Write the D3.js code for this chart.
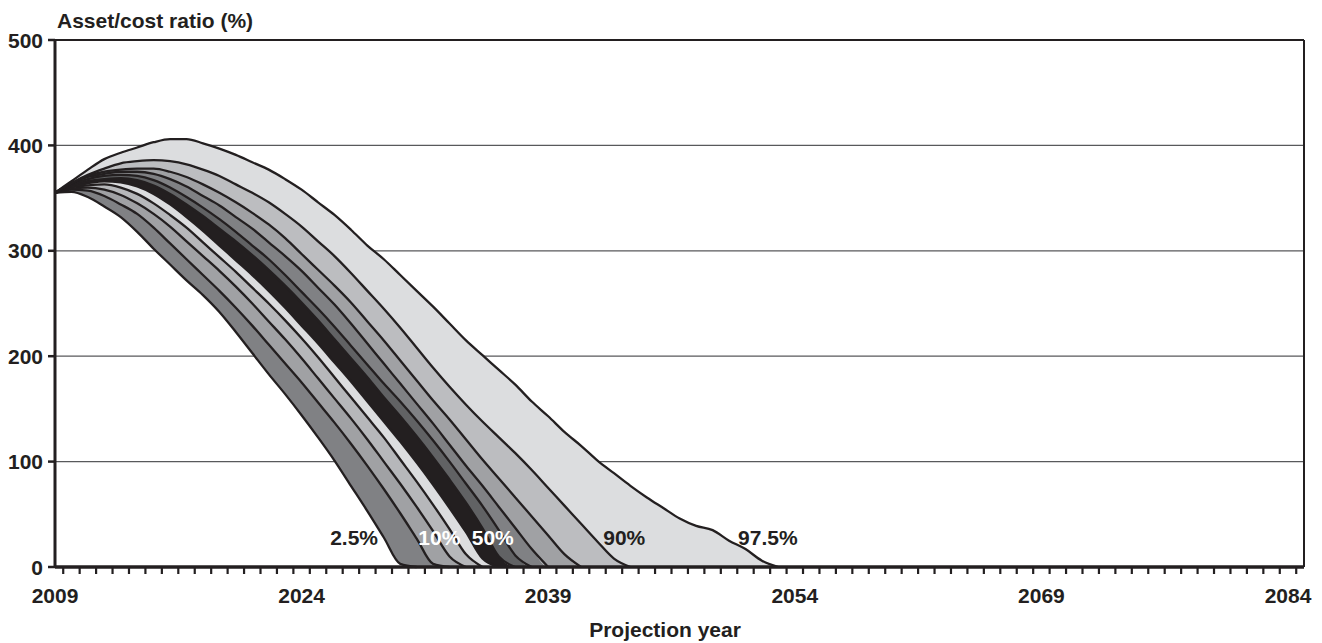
<!DOCTYPE html>
<html>
<head>
<meta charset="utf-8">
<script src="https://cdn.jsdelivr.net/npm/d3@7"></script>
<style>
  body { margin: 0; background: #fff; }
  svg text { font-family: "Liberation Sans", Arial, sans-serif; font-weight: bold; fill: #231f20; }
</style>
</head>
<body>
<svg id="chart" width="1322" height="643"></svg>
<script>
// Asset/cost ratio fan chart -- percentiles of the stochastic projection

var startYear = 2009;
var yTicks = [0, 100, 200, 300, 400, 500];
var xLabels = [2009, 2024, 2039, 2054, 2069, 2084];

// one array per percentile, annual values from 2009 until the ratio hits 0
var p025 = [355, 356, 351, 342, 332, 318, 302, 287, 272, 258, 242, 223, 203, 183, 164, 144, 123, 101, 77, 53, 28, 3, 0];
var p10  = [355, 358, 357, 352, 344, 335, 322, 307, 292, 277, 262, 246, 229, 211, 193, 175, 156, 137, 117, 96, 74, 51, 27, 3, 0];
var p20  = [355, 359, 360, 358, 353, 345, 335, 323, 309, 295, 281, 266, 250, 233, 216, 198, 179, 160, 141, 121, 100, 79, 57, 34, 10, 0];
var p30  = [355, 360, 362, 363, 360, 354, 345, 334, 322, 308, 294, 280, 265, 250, 234, 217, 199, 180, 161, 142, 123, 102, 81, 59, 36, 12, 0];
var p40  = [355, 361, 364, 366, 365, 361, 354, 344, 332, 319, 305, 291, 277, 262, 246, 229, 212, 194, 176, 157, 138, 119, 99, 78, 56, 33, 8, 0];
var p50  = [355, 362, 366, 368, 369, 367, 362, 354, 344, 333, 321, 309, 296, 282, 267, 251, 234, 216, 198, 180, 161, 143, 124, 104, 83, 61, 37, 10, 0];
var p60  = [355, 363, 368, 371, 372, 371, 367, 360, 351, 341, 330, 318, 305, 292, 277, 261, 245, 228, 210, 192, 174, 157, 139, 120, 100, 79, 58, 35, 11, 0];
var p70  = [355, 364, 370, 373, 375, 375, 373, 368, 361, 352, 343, 332, 321, 308, 295, 281, 265, 249, 231, 212, 193, 174, 155, 136, 116, 96, 77, 57, 37, 17, 0];
var p80  = [355, 364, 371, 375, 377, 378, 378, 375, 370, 363, 355, 346, 336, 325, 312, 297, 282, 267, 251, 233, 215, 196, 177, 158, 140, 121, 102, 84, 66, 48, 30, 12, 0];
var p90  = [355, 364, 372, 378, 383, 385, 386, 385, 382, 377, 371, 363, 355, 346, 335, 323, 309, 295, 279, 262, 245, 227, 208, 189, 171, 154, 138, 123, 108, 92, 75, 58, 41, 24, 8, 0];
var p975 = [355, 366, 377, 387, 393, 398, 403, 406, 406, 402, 397, 391, 384, 377, 368, 358, 346, 334, 320, 305, 292, 277, 262, 247, 231, 215, 201, 187, 173, 157, 143, 128, 115, 101, 89, 77, 66, 56, 46, 39, 35, 25, 17, 6, 0];

var percentiles = [p025, p10, p20, p30, p40, p50, p60, p70, p80, p90, p975];
var bandColors = ["#808184", "#a0a1a4", "#b6b7ba", "#dcdddf", "#231f20", "#616264", "#808184", "#a0a1a4", "#bcbdc0", "#dcdddf"];

var pctLabels = ["2.5%", "10%", "50%", "90%", "97.5%"];
var pctLabelYears = [2028.65, 2031.1, 2034.35, 2042.35, 2050.55];
var pctLabelAnchor = ["end", "start", "start", "start", "start"];
var pctLabelColor = ["#231f20", "#ffffff", "#ffffff", "#231f20", "#231f20"];

var svg = d3.select("#chart");
var plotLeft = 55, plotTop = 40, plotBottom = 567, plotRight = 1304;

var x = d3.scaleLinear().domain([2009, 2084]).range([plotLeft, 1288]);
var y = d3.scaleLinear().domain([0, 500]).range([plotBottom, plotTop]);

// value of a percentile in a given year index; 0 once the fund is gone
var val = function (series, i) {
  return i < series.length ? series[i] : 0;
};

var idx = d3.range(p975.length);

// gridlines
svg.append("g").selectAll("line")
  .data(yTicks.filter(function (t) { return t > 0 && t < 500; }))
  .enter().append("line")
  .attr("x1", plotLeft).attr("x2", plotRight)
  .attr("y1", function (d) { return y(d); })
  .attr("y2", function (d) { return y(d); })
  .attr("stroke", "#58595b").attr("stroke-width", 1.3);

// bands between consecutive percentiles
var bands = svg.append("g");
for (var b = 0; b < percentiles.length - 1; b++) {
  (function (lo, hi, col) {
    var area = d3.area()
      .curve(d3.curveMonotoneX)
      .x(function (i) { return x(startYear + i); })
      .y0(function (i) { return y(val(lo, i)); })
      .y1(function (i) { return y(val(hi, i)); });
    bands.append("path")
      .datum(idx)
      .attr("d", area)
      .attr("fill", col);
  })(percentiles[b], percentiles[b + 1], bandColors[b]);
}

// percentile lines
var line = d3.line()
  .curve(d3.curveMonotoneX)
  .x(function (d, i) { return x(startYear + i); })
  .y(function (d) { return y(d); });

svg.append("g").selectAll("path")
  .data(percentiles)
  .enter().append("path")
  .attr("d", line)
  .attr("fill", "none")
  .attr("stroke", "#231f20")
  .attr("stroke-width", 2.3)
  .attr("stroke-linejoin", "round");

// frame: top and right border
svg.append("line").attr("x1", plotLeft).attr("x2", plotRight).attr("y1", plotTop).attr("y2", plotTop)
  .attr("stroke", "#231f20").attr("stroke-width", 2);
svg.append("line").attr("x1", plotRight).attr("x2", plotRight).attr("y1", plotTop).attr("y2", plotBottom)
  .attr("stroke", "#231f20").attr("stroke-width", 2);

// y axis
svg.append("line").attr("x1", plotLeft).attr("x2", plotLeft).attr("y1", plotTop - 1).attr("y2", plotBottom + 1)
  .attr("stroke", "#231f20").attr("stroke-width", 3);
var yAxis = svg.append("g");
yAxis.selectAll("line").data(yTicks).enter().append("line")
  .attr("x1", plotLeft - 7).attr("x2", plotLeft)
  .attr("y1", function (d) { return y(d); })
  .attr("y2", function (d) { return y(d); })
  .attr("stroke", "#231f20").attr("stroke-width", 2.5);
yAxis.selectAll("text").data(yTicks).enter().append("text")
  .attr("x", 43)
  .attr("y", function (d) { return y(d); })
  .attr("dy", "0.36em")
  .attr("text-anchor", "end")
  .style("font-size", "21px")
  .text(function (d) { return d; });

// x axis
svg.append("line").attr("x1", plotLeft).attr("x2", plotRight).attr("y1", plotBottom).attr("y2", plotBottom)
  .attr("stroke", "#231f20").attr("stroke-width", 3.5);
var xAxis = svg.append("g");
xAxis.selectAll("line").data(d3.range(2009.5, 2085, 1)).enter().append("line")
  .attr("x1", function (d) { return x(d); })
  .attr("x2", function (d) { return x(d); })
  .attr("y1", plotBottom).attr("y2", plotBottom + 7)
  .attr("stroke", "#231f20").attr("stroke-width", 2.2);
xAxis.selectAll("text").data(xLabels).enter().append("text")
  .attr("x", function (d) { return x(d); })
  .attr("y", 603)
  .attr("text-anchor", "middle")
  .style("font-size", "21px")
  .text(function (d) { return d; });

// titles
svg.append("text").attr("x", 57).attr("y", 28)
  .style("font-size", "21px")
  .text("Asset/cost ratio (%)");
svg.append("text").attr("x", 665).attr("y", 637)
  .attr("text-anchor", "middle")
  .style("font-size", "21px")
  .text("Projection year");

// percentile labels
svg.append("g").selectAll("text").data(pctLabels).enter().append("text")
  .attr("x", function (d, i) { return x(pctLabelYears[i]); })
  .attr("y", y(21))
  .attr("text-anchor", function (d, i) { return pctLabelAnchor[i]; })
  .style("font-size", "21px")
  .style("fill", function (d, i) { return pctLabelColor[i]; })
  .text(function (d) { return d; });
</script>
</body>
</html>
